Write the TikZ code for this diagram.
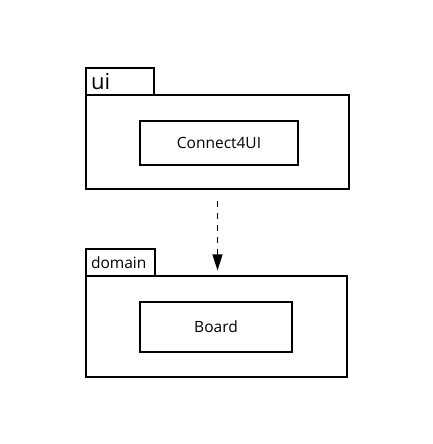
\documentclass[tikz,border=0pt]{standalone}
\usepackage{fontspec}
\setmainfont{Open Sans}
\usetikzlibrary{arrows.meta}
\begin{document}
\begin{tikzpicture}[x=1pt,y=-1pt,line width=1.2pt,
    pkgtab/.style={draw,inner sep=0pt,inner xsep=5pt,minimum height=27pt,align=left},
    pkgbody/.style={draw,inner sep=0pt},
    classbox/.style={draw,inner sep=0pt,font=\fontsize{15.5}{18}\selectfont}]
   \useasboundingbox (0,0) rectangle (433,444);

      \path (217.5,142) node[pkgbody,minimum width=263pt,minimum height=94pt] (ui) {};
      \path (120,81.5) node[pkgtab,text width=58pt,font=\fontsize{22}{24}\selectfont] (uitab) {ui};
      \path (219,143) node[classbox,minimum width=158pt,minimum height=44pt] (connect) {Connect4UI};

      \path (216.5,326.5) node[pkgbody,minimum width=261pt,minimum height=101pt] (domain) {};
      \path (120.5,262.5) node[pkgtab,text width=59pt,font=\fontsize{15.5}{18}\selectfont] (domaintab) {domain};
      \path (216,327) node[classbox,minimum width=152pt,minimum height=50pt] (board) {Board};

      \draw[dash pattern=on 6pt off 6pt,shorten <=11pt,shorten >=5pt,-{Triangle[width=10pt,length=16pt]}]
         (ui.south) -- (ui.south |- domain.north);

   \end{tikzpicture}
\end{document}
